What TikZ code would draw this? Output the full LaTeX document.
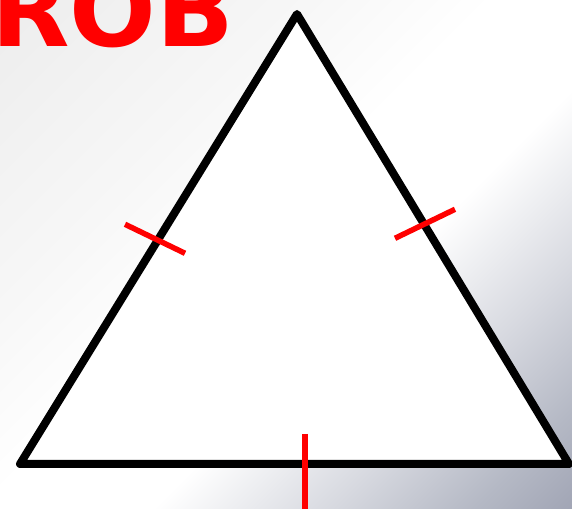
\documentclass[tikz,border=0pt]{standalone}
\usepackage{fontspec}
\newfontfamily\robfont{DejaVu Sans}
\definecolor{bgA}{HTML}{EDEDED}
\definecolor{bgB}{HTML}{F7F7F7}
\definecolor{bgC}{HTML}{D6D8DF}
\definecolor{bgD}{HTML}{B5B9C5}
\definecolor{bgE}{HTML}{A0A4B4}
\definecolor{bgF}{HTML}{8A8EA0}
\definecolor{tickred}{HTML}{FF0000}
\pgfdeclarehorizontalshading{slidebg}{100bp}{color(0bp)=(bgA); color(15bp)=(bgA); color(35bp)=(bgB); color(47bp)=(white); color(58bp)=(white); color(70bp)=(bgC); color(79bp)=(bgD); color(86bp)=(bgE); color(100bp)=(bgF)}
\tikzset{
  tri/.style={draw=black, fill=white, line width=8pt, line join=round},
  tickmark/.style={draw=tickred, line width=5.5pt},
  title/.style={anchor=base west, inner sep=0pt, text=tickred, font=\robfont\bfseries\fontsize{102}{102}\selectfont}
}
\begin{document}
\begin{tikzpicture}[x=1pt,y=1pt]
\useasboundingbox (0,0) rectangle (572,508);
\clip (0,0) rectangle (572,508);
\shade[shading=slidebg, shading angle=-45] (0,0) rectangle (572,508);
\coordinate (A) at (297,494);
\coordinate (B) at (20,44);
\coordinate (C) at (569,44);
\draw[tri] (A) -- (B) -- (C) -- cycle;
\coordinate (t1a) at (125,283.7);
\coordinate (t1b) at (185,254.7);
\coordinate (t2a) at (395,269.7);
\coordinate (t2b) at (455,298.7);
\coordinate (t3a) at (305,74);
\coordinate (t3b) at (305,-4);
\draw[tickmark] (t1a) -- (t1b);
\draw[tickmark] (t2a) -- (t2b);
\draw[tickmark] (t3a) -- (t3b);
\node[title] (rob) at (-9.2,461) {ROB};
\end{tikzpicture}
\end{document}
